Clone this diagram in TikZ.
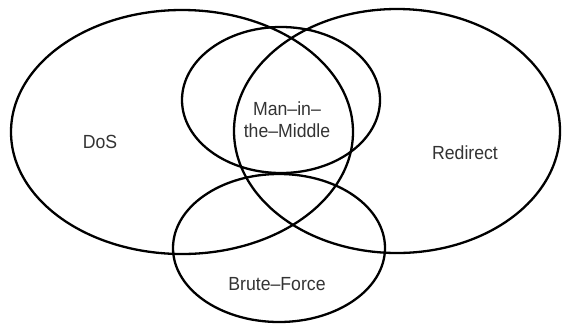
\documentclass[tikz,border=0pt]{standalone}
\usepackage{fontspec}
\setmainfont[FakeStretch=0.93]{Liberation Sans}
\begin{document}
\begin{tikzpicture}[x=1pt,y=-1pt,
  setline/.style={line width=2.3pt, draw=black},
  lbl/.style={font=\fontsize{19}{22}\selectfont, text=black!80, align=center, inner sep=0pt}]
\useasboundingbox (0,0) rectangle (569,325);
\draw[setline] (182,132) ellipse [x radius=171, y radius=122];
\draw[setline] (397,131) ellipse [x radius=163, y radius=122];
\draw[setline] (281,100) ellipse [x radius=99, y radius=73];
\draw[setline] (279,248) ellipse [x radius=106, y radius=74];
\node[lbl] (dos) at (100,142) {DoS};
\node[lbl] (redirect) at (465,153) {Redirect};
\node[lbl] (mitm) at (287,120) {Man–in–\\the–Middle};
\node[lbl] (brute) at (277,284) {Brute–Force};
\end{tikzpicture}
\end{document}
